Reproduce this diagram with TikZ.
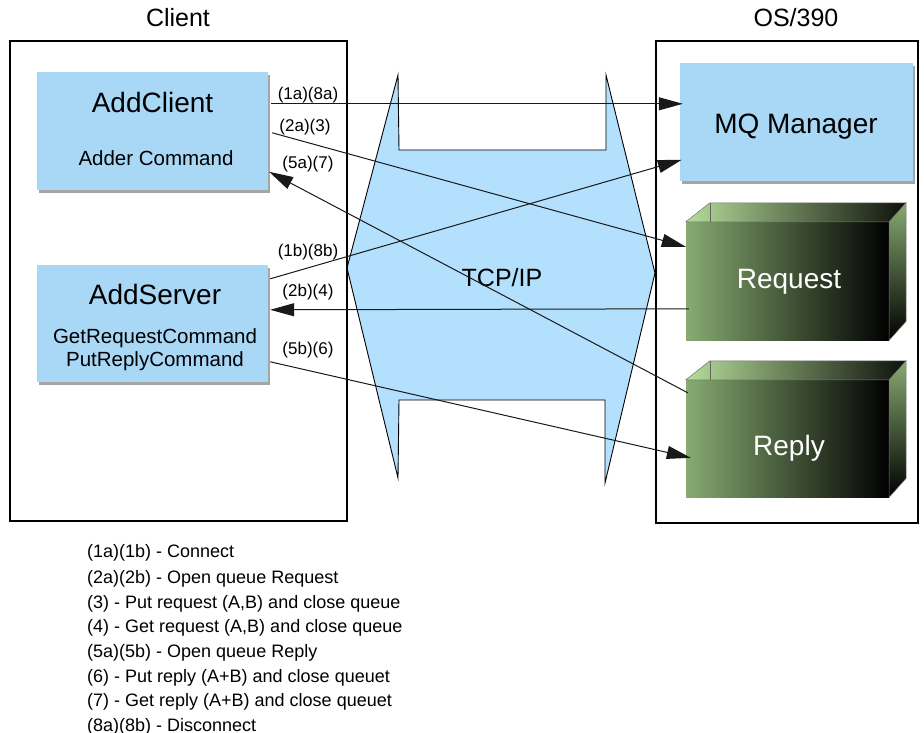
\documentclass[tikz,border=0pt]{standalone}
\usepackage{fontspec}
\setmainfont{Liberation Sans}
\usetikzlibrary{arrows.meta,shadows,calc}
\definecolor{boxblue}{HTML}{A8D8F6}
\definecolor{tcpblue}{HTML}{B3E1FD}
\definecolor{qgreen}{HTML}{87AB71}
\definecolor{qlight}{HTML}{B6DE9A}
\begin{document}
\begin{tikzpicture}[x=1pt,y=-1pt,
  frame/.style={draw=black,line width=2pt},
  bluebox/.style={fill=boxblue,inner sep=0pt,
    drop shadow={shadow xshift=2pt,shadow yshift=-3pt,fill=black,opacity=0.35}},
  queue/.style={inner sep=0pt,minimum width=203pt,left color=qgreen,middle color=qgreen!40!black,right color=black,
    text=white,font=\fontsize{28}{32}\selectfont},
  conn/.style={line width=1pt,draw=black!90,-{Triangle[length=24pt,width=13pt]}},
  lbl/.style={font=\fontsize{17}{20}\selectfont,inner sep=0pt},
  big/.style={font=\fontsize{28}{32}\selectfont,inner sep=0pt},
  small/.style={font=\fontsize{20.5}{23}\selectfont,inner sep=0pt},
  legend/.style={font=\fontsize{18}{22}\selectfont,inner sep=0pt,anchor=base west}]
\useasboundingbox (0,0) rectangle (924,733);
% TCP/IP cloud
\draw[fill=tcpblue,line width=0.9pt,line join=miter] (398,75) -- (399,150) -- (606,150) -- (606,75) -- (655,273)
  -- (605,483) -- (605,400) -- (399,400) -- (398,478) -- (347,268) -- cycle;
\node[font=\fontsize{25}{30}\selectfont,anchor=base,inner sep=0pt] (tcp) at (502,286) {TCP/IP};
% frames
\draw[frame] (10,41) rectangle (347,521);
\draw[frame] (656,41) rectangle (918,523);
\node[font=\fontsize{25}{30}\selectfont,anchor=base,inner sep=0pt] (clienttitle) at (178,27) {Client};
\node[font=\fontsize{25}{30}\selectfont,anchor=base,inner sep=0pt] (ostitle) at (796,27) {OS/390};
% client boxes
\node[bluebox,minimum width=231pt,minimum height=118pt] (addclient) at (152.5,131) {};
\node[big,anchor=base] (addclientname) at (152.5,113) {AddClient};
\node[small,anchor=base] (addclientcmd) at (156,165) {Adder Command};
\node[bluebox,minimum width=231pt,minimum height=117pt] (addserver) at (152.5,323.5) {};
\node[big,anchor=base] (addservername) at (155,304) {AddServer};
\node[small,anchor=base] (getreq) at (155,343) {GetRequestCommand};
\node[small,anchor=base] (putrep) at (155,366) {PutReplyCommand};
% MQ manager
\node[bluebox,minimum width=233pt,minimum height=118pt] (mq) at (796.5,122) {};
\node[big,anchor=base] (mqname) at (796,134) {MQ Manager};
% queues
\foreach \q/\cy/\h/\t/\ty in {request/281/118/Request/288,reply/438.5/117/Reply/455}{
  \node[queue,minimum height=\h pt] (\q) at (787.5,\cy) {};
  \shade[left color=qlight,middle color=qgreen!60!black,right color=black!90!qgreen,draw=black!55,line width=0.5pt]
    (\q.north west) -- ++(24,-19) -- ($(\q.north east)+(17,-19)$) -- (\q.north east) -- cycle;
  \shade[top color=qgreen,bottom color=black,draw=black!55,line width=0.5pt]
    (\q.north east) -- ++(17,-19) -- ($(\q.south east)+(17,-19)$) -- (\q.south east) -- cycle;
  \draw[black!60,line width=0.6pt] ($(\q.north west)+(24,-19)$) -- ($(\q.north west)+(24,0)$);
  \node[big,anchor=base,text=white] (\q name) at (789,\ty) {\t};
}
% connectors
\draw[conn] ([xshift=3pt,yshift=-32pt]addclient.north east) -- ([xshift=3pt,yshift=-41pt]mq.north west);
\draw[conn] ([xshift=4pt,yshift=-61pt]addclient.north east) -- ([xshift=0pt,yshift=-25pt]request.north west);
\draw[conn] ([xshift=2pt,yshift=-13pt]reply.north west) -- ([xshift=1pt,yshift=-100pt]addclient.north east);
\draw[conn] ([xshift=2pt,yshift=-14pt]addserver.north east) -- ([xshift=2pt,yshift=-97pt]mq.north west);
\draw[conn] ([xshift=3pt,yshift=-87pt]request.north west) -- ([xshift=2pt,yshift=-45pt]addserver.north east);
\draw[conn] ([xshift=2pt,yshift=-97pt]addserver.north east) -- ([xshift=5pt,yshift=-78pt]reply.north west);
% labels
\node[lbl] (l1a) at (308,95) {(1a)(8a)};
\node[lbl] (l2a) at (305,127) {(2a)(3)};
\node[lbl] (l5a) at (308,164) {(5a)(7)};
\node[lbl] (l1b) at (308,252) {(1b)(8b)};
\node[lbl] (l2b) at (308,292) {(2b)(4)};
\node[lbl] (l5b) at (308,350) {(5b)(6)};
% legend
\node[legend] (g1) at (87,557.5) {(1a)(1b) - Connect};
\node[legend] (g2) at (87,583) {(2a)(2b) - Open queue Request};
\node[legend] (g3) at (87,608) {(3) - Put request (A,B) and close queue};
\node[legend] (g4) at (87,632.5) {(4) - Get request (A,B) and close queue};
\node[legend] (g5) at (87,657.5) {(5a)(5b) - Open queue Reply};
\node[legend] (g6) at (87,682) {(6) - Put reply (A+B) and close queuet};
\node[legend] (g7) at (87,706.5) {(7) - Get reply (A+B) and close queuet};
\node[legend] (g8) at (87,731) {(8a)(8b) - Disconnect};
\end{tikzpicture}
\end{document}
